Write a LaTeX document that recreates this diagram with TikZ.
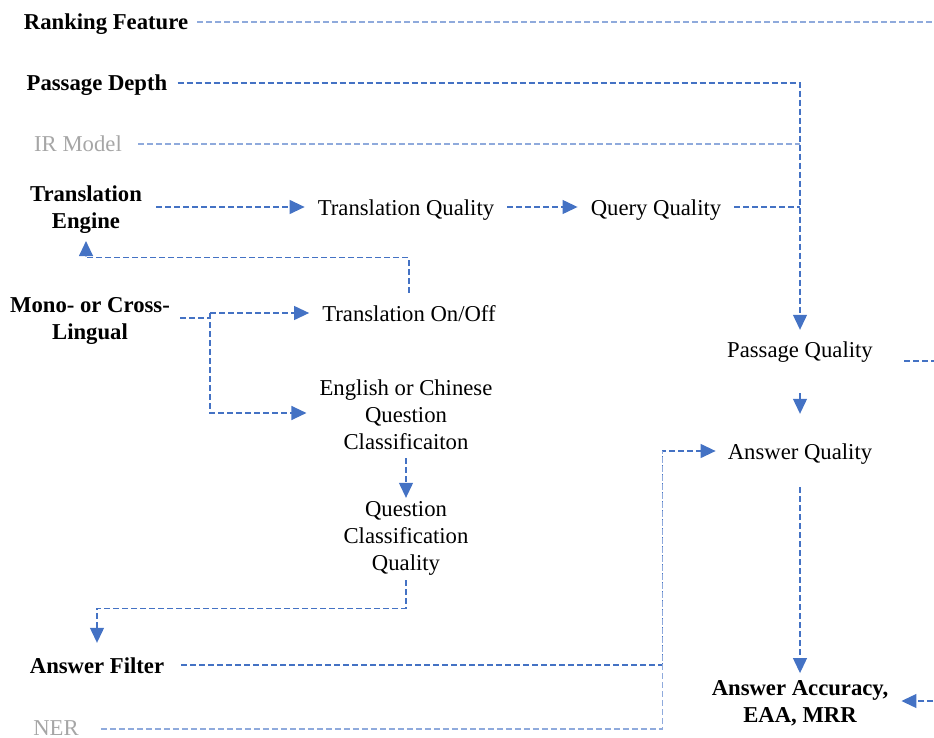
\documentclass[tikz,border=0pt]{standalone}
\usepackage{fontspec}
\setmainfont{Liberation Serif}
\usetikzlibrary{arrows.meta,calc}
\definecolor{linkblue}{HTML}{4472C4}
\definecolor{paleblue}{HTML}{8FAADC}
\definecolor{mutedtext}{HTML}{A6A6A6}
\begin{document}
\begin{tikzpicture}[x=1pt,y=-1pt,
  every node/.style={inner sep=0pt, font=\fontsize{22.7}{27}\selectfont},
  lbl/.style={text height=16pt, text depth=0pt},
  factor/.style={lbl, font=\fontsize{22.7}{27}\selectfont\bfseries},
  factor2/.style={align=center, font=\fontsize{22.7}{27}\selectfont\bfseries},
  minor/.style={lbl, text=mutedtext},
  multi/.style={align=center},
  flow/.style={draw=linkblue, line width=1.2pt, dash pattern=on 6pt off 3pt},
  paleflow/.style={flow, draw=paleblue},
  flowarrow/.style={flow, -{Triangle[length=15pt,width=14pt,fill=linkblue]}}
]
\useasboundingbox (0,0) rectangle (934,738);

% factors on the left
\node[factor]  (rf)  at (106,22)  {Ranking Feature};
\node[factor]  (pd)  at (97,83)   {Passage Depth};
\node[minor]   (ir)  at (78,144)  {IR Model};
\node[factor2] (te)  at (86,210)  {Translation\\Engine};
\node[factor2] (mc)  at (90,321)  {Mono- or Cross-\\Lingual};
\node[factor]  (af)  at (97,665)  {Answer Filter};
\node[minor]   (ner) at (56,727)  {NER};

% intermediate qualities
\node[lbl]   (tq)  at (406,207) {Translation Quality};
\node[lbl]   (qq)  at (656,207) {Query Quality};
\node[lbl]   (to)  at (409,313) {Translation On/Off};
\node[multi] (ec)  at (406,415) {English or Chinese\\Question\\Classificaiton};
\node[multi] (qcq) at (406,538) {Question\\Classification\\Quality};
\node[lbl]   (pq)  at (800,349) {Passage Quality};
\node[lbl]   (aq)  at (800,451) {Answer Quality};
\node[factor2] (aa) at (800,703) {Answer Accuracy,\\EAA, MRR};

% junction points
\coordinate (fork) at (210,313);
\coordinate (aqin) at ([xshift=-65pt]aq.west);

% retrieval side
\draw[paleflow] ([xshift=9pt]rf.east) -- ++(737,0);
\draw[flowarrow] ([xshift=10pt]pd.east) -| ([yshift=11pt]pq.north);
\draw[paleflow] ([xshift=16pt]ir.east) -- (ir.east -| pq.north);
\draw[flowarrow] ([xshift=14pt,yshift=3pt]te.east) -- ([xshift=-13pt]tq.west);
\draw[flowarrow] ([xshift=13pt]tq.east) -- ([xshift=-13pt]qq.west);
\draw[flow] ([xshift=13pt]qq.east) -- (qq.east -| pq.north);
\draw[flow] ([xshift=31pt,yshift=-12pt]pq.east) -- ++(31,0);
\draw[flowarrow] ([yshift=-36pt]pq.south) -- ([yshift=29pt]aq.north);

% translation choice
\draw[flow] ([xshift=10pt,yshift=3pt]mc.east) -- ++(30,0);
\draw[flowarrow] (fork) -- ([xshift=-13pt]to.west);
\draw[flowarrow] (fork) |- ([xshift=-13pt,yshift=2pt]ec.west);
\draw[flowarrow] ([yshift=12pt]to.north) -- ++(0,-35) -| ([yshift=-7pt]te.south);

% question classification
\draw[flowarrow] ([yshift=-8pt]ec.south) -- ([yshift=3pt]qcq.north);
\draw[flowarrow] ([yshift=-5pt]qcq.south) -- ++(0,28) -| ([yshift=14pt]af.north);

% answer side
\draw[flowarrow] ([xshift=17pt]af.east) -| (aqin) -- ([xshift=-12pt]aq.west);
\draw[paleflow] ([xshift=22pt,yshift=-2pt]ner.east) -| (aqin);
\draw[flowarrow] ([yshift=-28pt]aq.south) -- ([yshift=7pt]aa.north);
\draw[flowarrow] ([xshift=45pt,yshift=2pt]aa.east) -- ([xshift=13pt,yshift=2pt]aa.east);
\end{tikzpicture}
\end{document}
